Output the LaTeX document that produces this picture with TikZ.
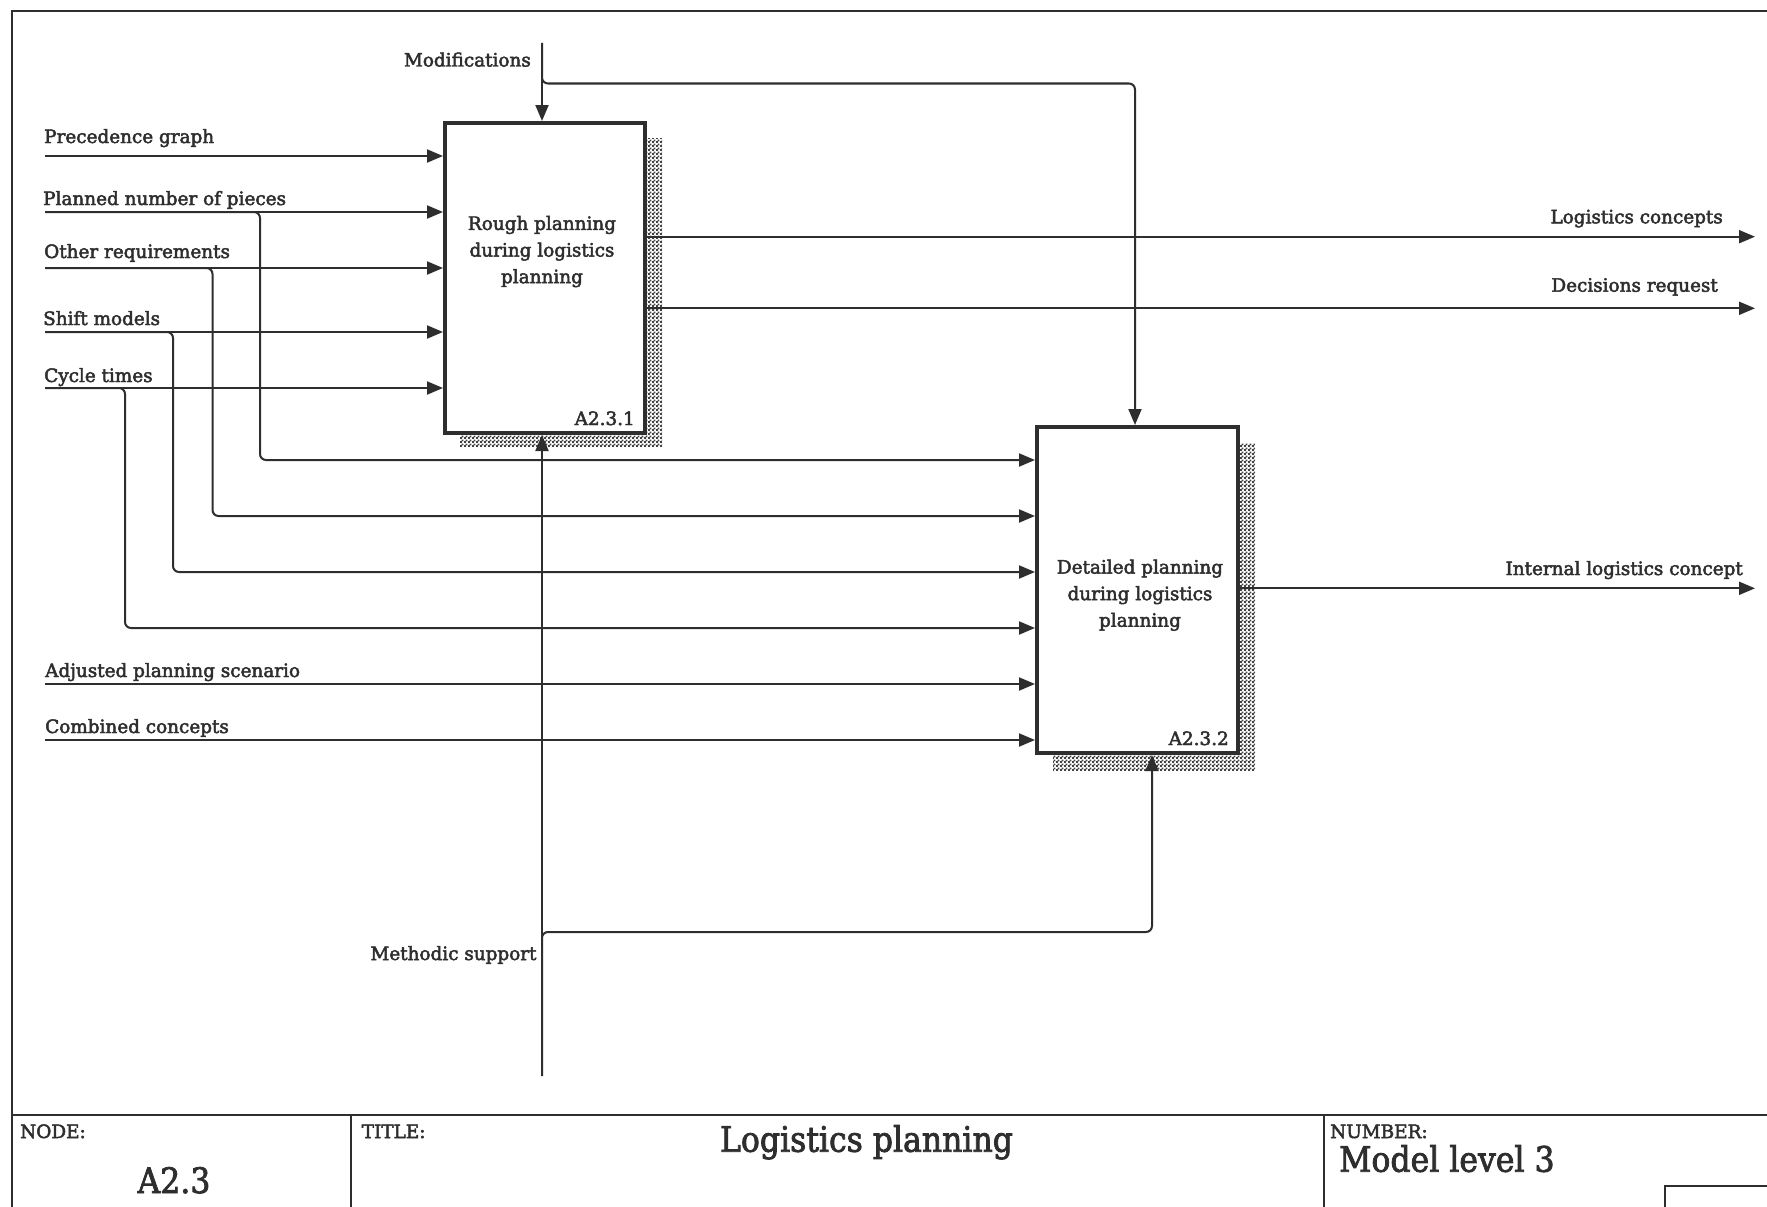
\documentclass[tikz,border=0pt]{standalone}
\usepackage{fontspec}
\setmainfont{DejaVu Serif}[FakeBold=2.6]
\newfontfamily\titlefont{DejaVu Serif}[FakeStretch=0.9,FakeBold=2.2]
\usetikzlibrary{arrows.meta,patterns}
\definecolor{ink}{HTML}{2E2E2E}
\pgfdeclarepatternformonly{checkdots}{\pgfpoint{0pt}{0pt}}{\pgfpoint{4pt}{4pt}}{\pgfpoint{4pt}{4pt}}{%
  \pgfpathrectangle{\pgfpoint{0pt}{0pt}}{\pgfpoint{2.2pt}{2.2pt}}%
  \pgfpathrectangle{\pgfpoint{2pt}{2pt}}{\pgfpoint{2.2pt}{2.2pt}}%
  \pgfusepath{fill}}
\begin{document}
\begin{tikzpicture}[x=1pt,y=-1pt,
  ln/.style={draw=ink,line width=2pt},
  arr/.style={ln,-{Triangle[length=16pt,width=13pt]}},
  fork/.style={arr,rounded corners=6pt},
  actbox/.style={draw=ink,line width=4pt,fill=white,inner sep=0pt},
  shade/.style={pattern=checkdots,pattern color=ink!90},
  lab/.style={text=ink,inner sep=0pt,font=\fontsize{18.4}{26.6}\selectfont},
  boxtxt/.style={lab,align=center},
  big/.style={text=ink,inner sep=0pt,font=\titlefont\fontsize{35}{40}\selectfont},
]
\fill[white] (0,0) rectangle (1767,1207);
\useasboundingbox (0,0) rectangle (1767,1207);
\clip (0,0) rectangle (1767,1207);

% frame and title block
\draw[ln] (1800,11) -- (11.5,11) -- (11.5,1230);
\draw[ln] (11.5,1115) -- (1800,1115);
\draw[ln] (351,1115) -- (351,1230);
\draw[ln] (1324,1115) -- (1324,1230);
\draw[ln] (1665,1230) -- (1665,1186) -- (1800,1186);

\node[lab,anchor=base west] (nodelbl) at (20,1138) {NODE:};
\node[big,anchor=base] (nodeid) at (174,1193) {A2.3};
\node[lab,anchor=base west] (titlelbl) at (361.6,1138) {TITLE:};
\node[big,anchor=base] (title) at (866.5,1151.7) {Logistics planning};
\node[lab,anchor=base west] (numlbl) at (1330,1138) {NUMBER:};
\node[big,anchor=base west] (num) at (1339,1171.7) {Model level 3};

% shadows
\fill[shade] (645,138) -- (662,138) -- (662,447) -- (460,447) -- (460,433) -- (645,433) -- cycle;
\fill[shade] (1238,443) -- (1255,443) -- (1255,771) -- (1053,771) -- (1053,753) -- (1238,753) -- cycle;

% activity boxes
\node[actbox,minimum width=200pt,minimum height=310pt] (rough) at (545,278) {};
\node[actbox,minimum width=201pt,minimum height=326pt] (detail) at (1137.5,590) {};
\node[boxtxt] (roughtxt) at (542,251.6) {Rough planning\\during logistics\\planning};
\node[boxtxt] (detailtxt) at (1140,595.2) {Detailed planning\\during logistics\\planning};
\node[lab,anchor=base east] (roughid) at (635,425) {A2.3.1};
\node[lab,anchor=base east] (detailid) at (1229,745) {A2.3.2};

% free ends
\coordinate (inPG) at (45,156);
\coordinate (inPN) at (45,212);
\coordinate (inOR) at (45,268);
\coordinate (inSM) at (45,332);
\coordinate (inCT) at (45,388);
\coordinate (inAP) at (45,684);
\coordinate (inCC) at (45,740);
\coordinate (ctlM) at (542,43);
\coordinate (mechM) at (542,1076);
\coordinate (outLC) at (1755,236.7);
\coordinate (outDR) at (1755,308.3);
\coordinate (outIL) at (1755,588.3);

% inputs
\draw[arr] (inPG) -- (inPG -| rough.west);
\draw[arr] (inPN) -- (inPN -| rough.west);
\draw[arr] (inOR) -- (inOR -| rough.west);
\draw[arr] (inSM) -- (inSM -| rough.west);
\draw[arr] (inCT) -- (inCT -| rough.west);
\draw[fork] (inPN) -- (260,212) -- (260,460) -- (detail.west |- 0,460);
\draw[fork] (inOR) -- (212.5,268) -- (212.5,516) -- (detail.west |- 0,516);
\draw[fork] (inSM) -- (173,332) -- (173,572) -- (detail.west |- 0,572);
\draw[fork] (inCT) -- (125,388) -- (125,628) -- (detail.west |- 0,628);
\draw[arr] (inAP) -- (inAP -| detail.west);
\draw[arr] (inCC) -- (inCC -| detail.west);

% controls
\draw[arr] (ctlM) -- (ctlM |- rough.north);
\draw[fork] (ctlM) -- (542,83.5) -- (1135,83.5) -- (1135,0 |- detail.north);

% mechanisms
\draw[arr] (mechM) -- (mechM |- rough.south);
\draw[fork] (mechM) -- (542,932) -- (1152,932) -- (1152,0 |- detail.south);

% outputs
\draw[arr] (rough.east |- outLC) -- (outLC);
\draw[arr] (rough.east |- outDR) -- (outDR);
\draw[arr] (detail.east |- outIL) -- (outIL);

% labels
\node[lab,anchor=base west] (lPG) at (44,143) {Precedence graph};
\node[lab,anchor=base west] (lPN) at (43,205) {Planned number of pieces};
\node[lab,anchor=base west] (lOR) at (44,258) {Other requirements};
\node[lab,anchor=base west] (lSM) at (43,325) {Shift models};
\node[lab,anchor=base west] (lCT) at (44,382) {Cycle times};
\node[lab,anchor=base west] (lAP) at (45,677) {Adjusted planning scenario};
\node[lab,anchor=base west] (lCC) at (45,733) {Combined concepts};
\node[lab,anchor=base east] (lMod) at (531,66.5) {Modifications};
\node[lab,anchor=base east] (lMeth) at (536.7,960) {Methodic support};
\node[lab,anchor=base east] (lLC) at (1723,223.3) {Logistics concepts};
\node[lab,anchor=base east] (lDR) at (1718,291.7) {Decisions request};
\node[lab,anchor=base east] (lIL) at (1743,575) {Internal logistics concept};
\end{tikzpicture}
\end{document}
